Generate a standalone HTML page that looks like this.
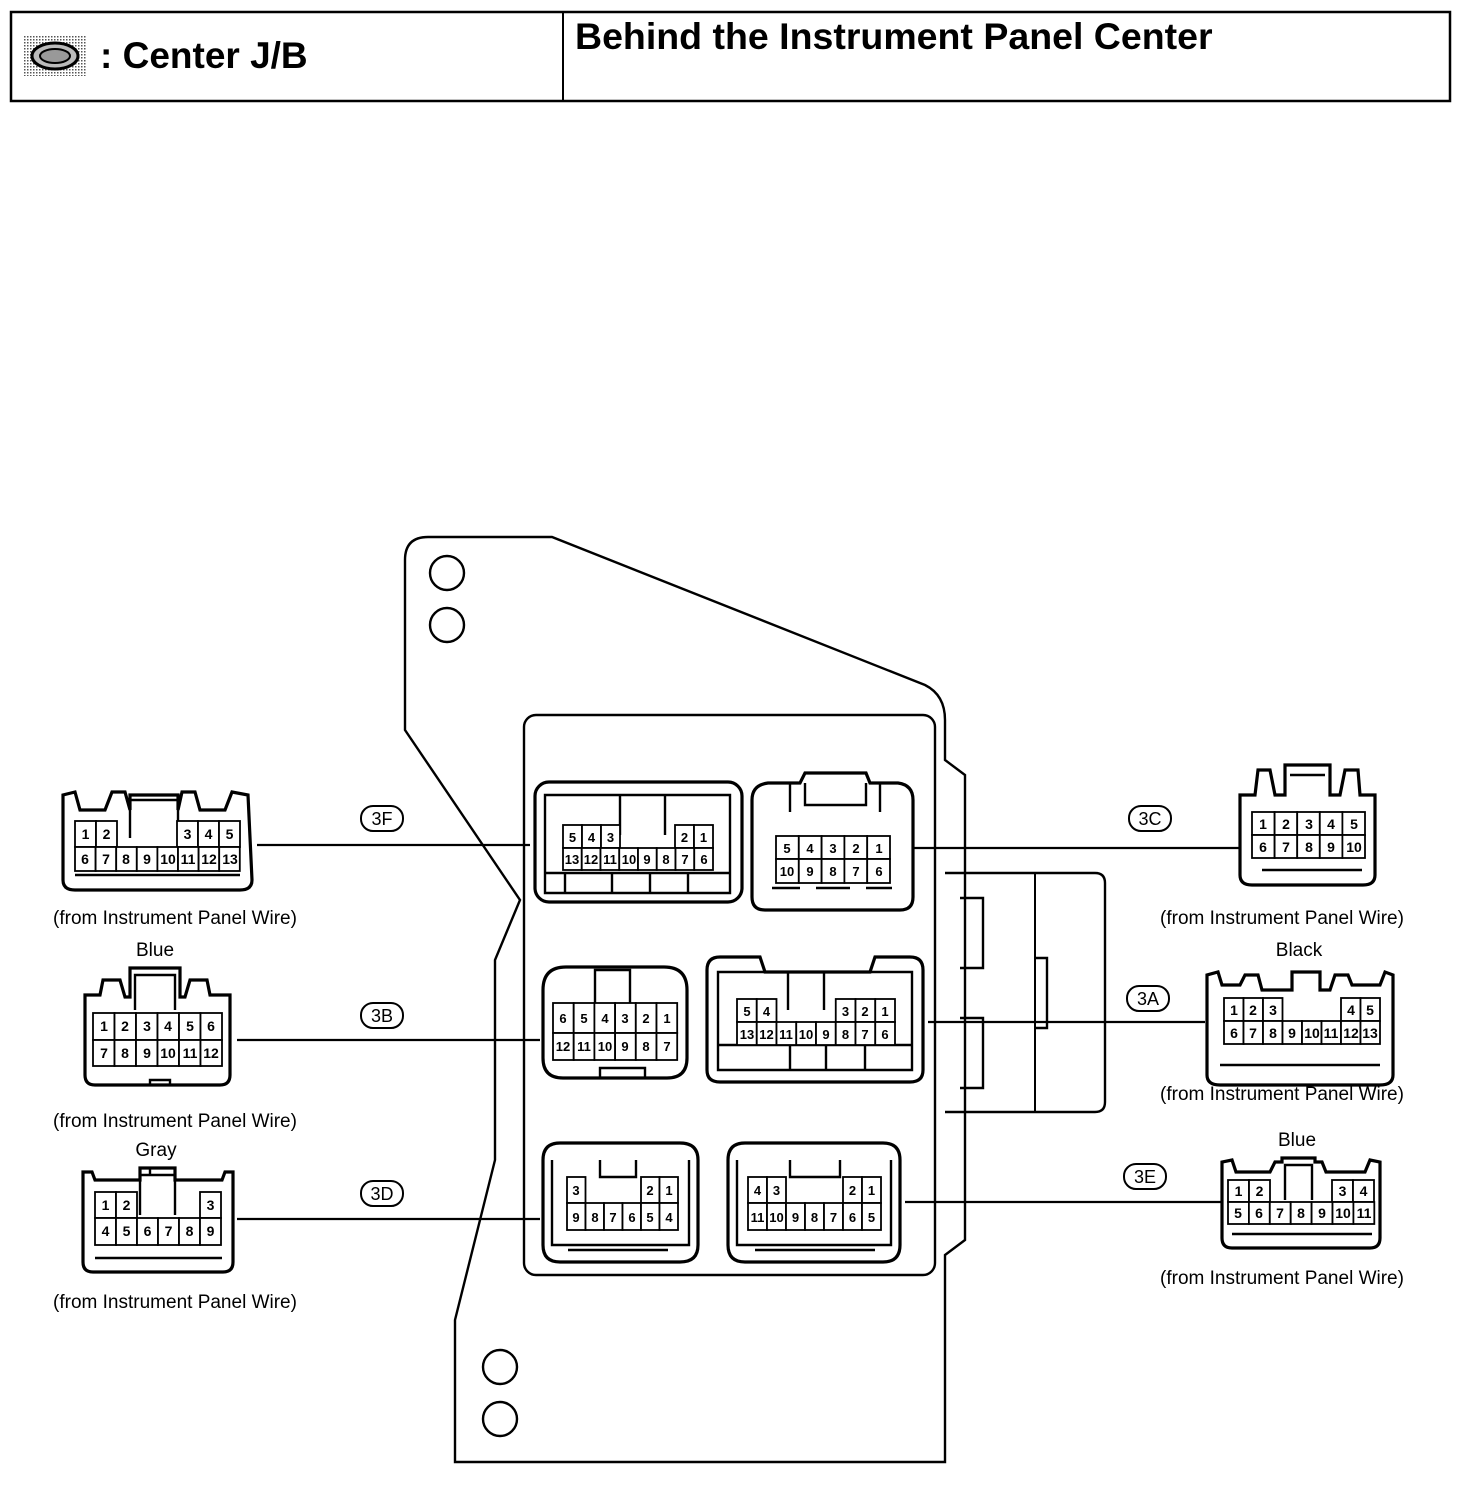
<!DOCTYPE html>
<html><head><meta charset="utf-8"><style>
html,body{margin:0;padding:0;background:#fff;}
svg{display:block;}
text{font-family:"Liberation Sans",sans-serif;fill:#000;}
.p{font-size:14px;text-anchor:middle;font-weight:600;}
.s{font-size:13px;text-anchor:middle;font-weight:600;}
.l{font-size:18px;text-anchor:middle;}
.c rect{fill:#fff;stroke:#000;stroke-width:1.8;}
.o{fill:#fff;stroke:#000;stroke-width:3.2;}
.t{fill:none;stroke:#000;stroke-width:2.4;}
</style></head><body>
<svg width="1472" height="1502" viewBox="0 0 1472 1502" xmlns="http://www.w3.org/2000/svg">
<defs><pattern id="dot" width="3" height="3" patternUnits="userSpaceOnUse"><rect width="3" height="3" fill="#fff"/><rect width="1.5" height="1.5" fill="#555"/></pattern></defs>
<rect x="11" y="12" width="1439" height="89" fill="none" stroke="#000" stroke-width="2.5"/>
<line x1="563" y1="12" x2="563" y2="101" stroke="#000" stroke-width="2"/>
<rect x="24" y="36" width="62" height="40" fill="url(#dot)"/>
<ellipse cx="55" cy="56" rx="23" ry="13" fill="#bbb" stroke="#000" stroke-width="3"/>
<ellipse cx="55" cy="56" rx="15" ry="7" fill="#999" stroke="#000" stroke-width="2"/>
<text x="100" y="68" style="font-size:37px;font-weight:bold">: Center J/B</text>
<text x="575" y="49" style="font-size:37.5px;font-weight:bold">Behind the Instrument Panel Center</text>

<path class="t" stroke-width="3" d="M405,560 Q405,537 428,537 L552,537 L925,685 Q945,695 945,720 L945,760 L965,775 L965,1240 L945,1255 L945,1462 L455,1462 L455,1320 L495,1160 L495,960 L520,900 L405,730 Z"/>
<rect x="524" y="715" width="411" height="560" rx="12" class="t"/>
<path class="t" d="M945,873 L1095,873 Q1105,873 1105,883 L1105,1102 Q1105,1112 1095,1112 L945,1112"/>
<line x1="1035" y1="873" x2="1035" y2="1112" stroke="#000" stroke-width="2"/>
<path class="t" d="M960,898 L983,898 L983,968 L960,968 M960,1018 L983,1018 L983,1088 L960,1088 M1035,958 L1047,958 L1047,1028 L1035,1028"/>
<circle cx="447" cy="573" r="17" class="t"/><circle cx="447" cy="625" r="17" class="t"/>
<circle cx="500" cy="1367" r="17" class="t"/><circle cx="500" cy="1419" r="17" class="t"/>

<g stroke="#000" stroke-width="2.2">
<line x1="257" y1="845" x2="530" y2="845"/>
<line x1="237" y1="1040" x2="540" y2="1040"/>
<line x1="237" y1="1219" x2="540" y2="1219"/>
<line x1="912" y1="848" x2="1240" y2="848"/>
<line x1="928" y1="1022" x2="1205" y2="1022"/>
<line x1="905" y1="1202" x2="1222" y2="1202"/>
</g>
<g fill="#fff" stroke="#000" stroke-width="2">
<rect x="361" y="806" width="42" height="25" rx="12"/>
<rect x="361" y="1003" width="42" height="25" rx="12"/>
<rect x="361" y="1181" width="42" height="25" rx="12"/>
<rect x="1129" y="806" width="42" height="25" rx="12"/>
<rect x="1127" y="986" width="42" height="25" rx="12"/>
<rect x="1124" y="1164" width="42" height="25" rx="12"/>
</g>
<text class="l" x="382" y="825">3F</text><text class="l" x="382" y="1022">3B</text><text class="l" x="382" y="1200">3D</text>
<text class="l" x="1150" y="825">3C</text><text class="l" x="1148" y="1005">3A</text><text class="l" x="1145" y="1183">3E</text>

<g style="font-size:19px" text-anchor="middle">
<text x="175" y="924">(from Instrument Panel Wire)</text>
<text x="175" y="1127">(from Instrument Panel Wire)</text>
<text x="175" y="1308">(from Instrument Panel Wire)</text>
<text x="1282" y="924">(from Instrument Panel Wire)</text>
<text x="1282" y="1100">(from Instrument Panel Wire)</text>
<text x="1282" y="1284">(from Instrument Panel Wire)</text>
<text x="155" y="956">Blue</text><text x="156" y="1156">Gray</text>
<text x="1299" y="956">Black</text><text x="1297" y="1146">Blue</text>
</g>

<path class="o" d="M63,880 L63,795 L75,792 L80,810 L105,810 L112,792 L125,792 L130,810 L130,795 L178,795 L178,810 L182,792 L195,792 L200,810 L225,810 L232,792 L248,795 L252,880 Q252,890 240,890 L75,890 Q63,890 63,880Z"/>
<path class="t" d="M130,838 L130,800 L178,800 L178,838"/>
<path class="t" d="M75,875 L240,875"/>
<path class="o" d="M85,1075 L85,995 L100,995 L103,980 L120,980 L125,997 L130,997 L130,968 L180,968 L180,997 L185,997 L190,980 L207,980 L210,995 L230,995 L230,1075 Q230,1085 220,1085 L95,1085 Q85,1085 85,1075Z"/>
<path class="t" d="M135,1010 L135,975 L175,975 L175,1010 M150,1085 L150,1080 L170,1080 L170,1085"/>
<path class="o" d="M83,1262 L83,1172 L92,1172 L95,1180 L140,1180 L140,1168 L175,1168 L175,1180 L222,1180 L225,1172 L233,1172 L233,1262 Q233,1272 223,1272 L93,1272 Q83,1272 83,1262Z"/>
<path class="t" d="M140,1215 L140,1175 L175,1175 L175,1215 M150,1175 L150,1168 L165,1168 M95,1258 L222,1258"/>
<path class="o" d="M1240,875 L1240,795 L1255,795 L1258,770 L1270,770 L1275,795 L1285,795 L1285,765 L1330,765 L1330,795 L1340,795 L1345,770 L1358,770 L1360,795 L1375,795 L1375,875 Q1375,885 1363,885 L1252,885 Q1240,885 1240,875Z"/>
<path class="t" d="M1290,775 L1325,775 M1262,870 L1362,870"/>
<path class="o" d="M1207,1075 L1207,975 L1218,972 L1222,985 L1240,985 L1245,975 L1258,975 L1262,990 L1292,990 L1292,972 L1320,972 L1320,990 L1330,990 L1335,975 L1348,975 L1352,985 L1380,985 L1385,972 L1393,975 L1393,1075 Q1393,1085 1380,1085 L1220,1085 Q1207,1085 1207,1075Z"/>
<path class="t" d="M1220,1065 L1380,1065"/>
<path class="o" d="M1222,1238 L1222,1162 L1232,1160 L1236,1172 L1270,1172 L1275,1162 L1282,1162 L1282,1158 L1315,1158 L1315,1162 L1322,1162 L1326,1172 L1365,1172 L1370,1160 L1380,1162 L1380,1238 Q1380,1248 1370,1248 L1232,1248 Q1222,1248 1222,1238Z"/>
<path class="t" d="M1285,1200 L1285,1165 L1312,1165 L1312,1200 M1232,1234 L1372,1234"/>

<rect x="535" y="782" width="207" height="120" rx="14" class="o"/>
<path class="t" d="M545,795 L730,795 L730,893 L545,893 Z M565,893 L565,873 M612,893 L612,873 M650,893 L650,873 M688,893 L688,873 M620,795 L620,835 M665,795 L665,835 M545,873 L730,873"/>
<path class="o" d="M752,800 Q752,785 768,783 L800,783 L805,773 L866,773 L870,783 L898,783 Q913,785 913,800 L913,897 Q913,910 900,910 L765,910 Q752,910 752,897 Z"/>
<path class="t" d="M790,783 L790,812 M805,783 L805,805 L866,805 L866,783 M880,783 L880,812 M772,888 L800,888 M816,888 L850,888 M866,888 L892,888"/>
<path class="o" d="M543,990 Q543,967 566,967 L664,967 Q687,967 687,990 L687,1058 Q687,1078 667,1078 L563,1078 Q543,1078 543,1058 Z"/>
<path class="t" d="M595,1003 L595,970 L630,970 L630,1003 M600,1078 L600,1068 L645,1068 L645,1078"/>
<path class="o" d="M707,970 Q707,957 720,957 L760,957 L765,972 L870,972 L875,957 L910,957 Q923,957 923,970 L923,1070 Q923,1082 910,1082 L720,1082 Q707,1082 707,1070 Z"/>
<path class="t" d="M718,972 L912,972 L912,1070 L718,1070 Z M718,1045 L912,1045 M790,1045 L790,1070 M826,1045 L826,1070 M865,1045 L865,1070 M788,972 L788,1010 M824,972 L824,1010"/>
<path class="o" d="M543,1160 Q543,1143 560,1143 L680,1143 Q698,1143 698,1160 L698,1245 Q698,1262 680,1262 L560,1262 Q543,1262 543,1245 Z"/>
<path class="t" d="M552,1160 L552,1245 L689,1245 L689,1160 M568,1250 L668,1250 M600,1160 L600,1177 L636,1177 L636,1160"/>
<path class="o" d="M728,1160 Q728,1143 745,1143 L883,1143 Q900,1143 900,1160 L900,1245 Q900,1262 883,1262 L745,1262 Q728,1262 728,1245 Z"/>
<path class="t" d="M737,1160 L737,1245 L891,1245 L891,1160 M755,1250 L875,1250 M790,1160 L790,1177 L840,1177 L840,1160"/>

<g class="c">
<rect x="75" y="821" width="21" height="26"/><rect x="96" y="821" width="21" height="26"/><rect x="177" y="821" width="21" height="26"/><rect x="198" y="821" width="21" height="26"/><rect x="219" y="821" width="21" height="26"/>
<rect x="75" y="847" width="20.6" height="24"/><rect x="95.6" y="847" width="20.6" height="24"/><rect x="116.2" y="847" width="20.6" height="24"/><rect x="136.8" y="847" width="20.6" height="24"/><rect x="157.4" y="847" width="20.6" height="24"/><rect x="178" y="847" width="20.6" height="24"/><rect x="198.6" y="847" width="20.6" height="24"/><rect x="219.2" y="847" width="20.6" height="24"/>
<rect x="93" y="1013" width="21.5" height="27"/><rect x="114.5" y="1013" width="21.5" height="27"/><rect x="136" y="1013" width="21.5" height="27"/><rect x="157.5" y="1013" width="21.5" height="27"/><rect x="179" y="1013" width="21.5" height="27"/><rect x="200.5" y="1013" width="21.5" height="27"/>
<rect x="93" y="1040" width="21.5" height="26"/><rect x="114.5" y="1040" width="21.5" height="26"/><rect x="136" y="1040" width="21.5" height="26"/><rect x="157.5" y="1040" width="21.5" height="26"/><rect x="179" y="1040" width="21.5" height="26"/><rect x="200.5" y="1040" width="21.5" height="26"/>
<rect x="95" y="1192" width="21" height="26"/><rect x="116" y="1192" width="21" height="26"/><rect x="200" y="1192" width="21" height="26"/>
<rect x="95" y="1218" width="21" height="27"/><rect x="116" y="1218" width="21" height="27"/><rect x="137" y="1218" width="21" height="27"/><rect x="158" y="1218" width="21" height="27"/><rect x="179" y="1218" width="21" height="27"/><rect x="200" y="1218" width="21" height="27"/>
<rect x="1252" y="812" width="22.6" height="23"/><rect x="1274.6" y="812" width="22.6" height="23"/><rect x="1297.2" y="812" width="22.6" height="23"/><rect x="1319.8" y="812" width="22.6" height="23"/><rect x="1342.4" y="812" width="22.6" height="23"/>
<rect x="1252" y="835" width="22.6" height="23"/><rect x="1274.6" y="835" width="22.6" height="23"/><rect x="1297.2" y="835" width="22.6" height="23"/><rect x="1319.8" y="835" width="22.6" height="23"/><rect x="1342.4" y="835" width="22.6" height="23"/>
<rect x="1224" y="998" width="19.5" height="23"/><rect x="1243.5" y="998" width="19.5" height="23"/><rect x="1263" y="998" width="19.5" height="23"/><rect x="1341" y="998" width="19.5" height="23"/><rect x="1360.5" y="998" width="19.5" height="23"/>
<rect x="1224" y="1021" width="19.5" height="23"/><rect x="1243.5" y="1021" width="19.5" height="23"/><rect x="1263" y="1021" width="19.5" height="23"/><rect x="1282.5" y="1021" width="19.5" height="23"/><rect x="1302" y="1021" width="19.5" height="23"/><rect x="1321.5" y="1021" width="19.5" height="23"/><rect x="1341" y="1021" width="19.5" height="23"/><rect x="1360.5" y="1021" width="19.5" height="23"/>
<rect x="1228" y="1180" width="21" height="22"/><rect x="1249" y="1180" width="21" height="22"/><rect x="1332" y="1180" width="21" height="22"/><rect x="1353" y="1180" width="21" height="22"/>
<rect x="1228" y="1202" width="20.9" height="22"/><rect x="1248.9" y="1202" width="20.9" height="22"/><rect x="1269.8" y="1202" width="20.9" height="22"/><rect x="1290.7" y="1202" width="20.9" height="22"/><rect x="1311.6" y="1202" width="20.9" height="22"/><rect x="1332.5" y="1202" width="20.9" height="22"/><rect x="1353.4" y="1202" width="20.9" height="22"/>
<rect x="563" y="825" width="19" height="23"/><rect x="582" y="825" width="19" height="23"/><rect x="601" y="825" width="19" height="23"/><rect x="675" y="825" width="19" height="23"/><rect x="694" y="825" width="19" height="23"/>
<rect x="563" y="848" width="18.75" height="22"/><rect x="581.75" y="848" width="18.75" height="22"/><rect x="600.5" y="848" width="18.75" height="22"/><rect x="619.25" y="848" width="18.75" height="22"/><rect x="638" y="848" width="18.75" height="22"/><rect x="656.75" y="848" width="18.75" height="22"/><rect x="675.5" y="848" width="18.75" height="22"/><rect x="694.25" y="848" width="18.75" height="22"/>
<rect x="776" y="836" width="22.8" height="23"/><rect x="798.8" y="836" width="22.8" height="23"/><rect x="821.6" y="836" width="22.8" height="23"/><rect x="844.4" y="836" width="22.8" height="23"/><rect x="867.2" y="836" width="22.8" height="23"/>
<rect x="776" y="859" width="22.8" height="24"/><rect x="798.8" y="859" width="22.8" height="24"/><rect x="821.6" y="859" width="22.8" height="24"/><rect x="844.4" y="859" width="22.8" height="24"/><rect x="867.2" y="859" width="22.8" height="24"/>
<rect x="553" y="1003" width="20.7" height="30"/><rect x="573.7" y="1003" width="20.7" height="30"/><rect x="594.4" y="1003" width="20.7" height="30"/><rect x="615.1" y="1003" width="20.7" height="30"/><rect x="635.8" y="1003" width="20.7" height="30"/><rect x="656.5" y="1003" width="20.7" height="30"/>
<rect x="553" y="1033" width="20.7" height="27"/><rect x="573.7" y="1033" width="20.7" height="27"/><rect x="594.4" y="1033" width="20.7" height="27"/><rect x="615.1" y="1033" width="20.7" height="27"/><rect x="635.8" y="1033" width="20.7" height="27"/><rect x="656.5" y="1033" width="20.7" height="27"/>
<rect x="737" y="999" width="19.75" height="23"/><rect x="756.75" y="999" width="19.75" height="23"/><rect x="835.75" y="999" width="19.75" height="23"/><rect x="855.5" y="999" width="19.75" height="23"/><rect x="875.25" y="999" width="19.75" height="23"/>
<rect x="737" y="1022" width="19.75" height="23"/><rect x="756.75" y="1022" width="19.75" height="23"/><rect x="776.5" y="1022" width="19.75" height="23"/><rect x="796.25" y="1022" width="19.75" height="23"/><rect x="816" y="1022" width="19.75" height="23"/><rect x="835.75" y="1022" width="19.75" height="23"/><rect x="855.5" y="1022" width="19.75" height="23"/><rect x="875.25" y="1022" width="19.75" height="23"/>
<rect x="567" y="1177" width="18.5" height="26"/><rect x="641" y="1177" width="18.5" height="26"/><rect x="659.5" y="1177" width="18.5" height="26"/>
<rect x="567" y="1203" width="18.5" height="27"/><rect x="585.5" y="1203" width="18.5" height="27"/><rect x="604" y="1203" width="18.5" height="27"/><rect x="622.5" y="1203" width="18.5" height="27"/><rect x="641" y="1203" width="18.5" height="27"/><rect x="659.5" y="1203" width="18.5" height="27"/>
<rect x="748" y="1177" width="19" height="26"/><rect x="767" y="1177" width="19" height="26"/><rect x="843" y="1177" width="19" height="26"/><rect x="862" y="1177" width="19" height="26"/>
<rect x="748" y="1203" width="19" height="27"/><rect x="767" y="1203" width="19" height="27"/><rect x="786" y="1203" width="19" height="27"/><rect x="805" y="1203" width="19" height="27"/><rect x="824" y="1203" width="19" height="27"/><rect x="843" y="1203" width="19" height="27"/><rect x="862" y="1203" width="19" height="27"/>
</g>

<g class="p">
<text x="85.5" y="839">1</text><text x="106.5" y="839">2</text><text x="187.5" y="839">3</text><text x="208.5" y="839">4</text><text x="229.5" y="839">5</text>
<text x="85" y="864">6</text><text x="106" y="864">7</text><text x="126" y="864">8</text><text x="147" y="864">9</text><text x="168" y="864">10</text><text x="188" y="864">11</text><text x="209" y="864">12</text><text x="230" y="864">13</text>
<text x="104" y="1031">1</text><text x="125" y="1031">2</text><text x="147" y="1031">3</text><text x="168" y="1031">4</text><text x="190" y="1031">5</text><text x="211" y="1031">6</text>
<text x="104" y="1058">7</text><text x="125" y="1058">8</text><text x="147" y="1058">9</text><text x="168" y="1058">10</text><text x="190" y="1058">11</text><text x="211" y="1058">12</text>
<text x="105.5" y="1210">1</text><text x="126.5" y="1210">2</text><text x="210.5" y="1210">3</text>
<text x="105.5" y="1236">4</text><text x="126.5" y="1236">5</text><text x="147.5" y="1236">6</text><text x="168.5" y="1236">7</text><text x="189.5" y="1236">8</text><text x="210.5" y="1236">9</text>
<text x="1263" y="829">1</text><text x="1286" y="829">2</text><text x="1309" y="829">3</text><text x="1331" y="829">4</text><text x="1354" y="829">5</text>
<text x="1263" y="852">6</text><text x="1286" y="852">7</text><text x="1309" y="852">8</text><text x="1331" y="852">9</text><text x="1354" y="852">10</text>
<text x="1234" y="1015">1</text><text x="1253" y="1015">2</text><text x="1273" y="1015">3</text><text x="1351" y="1015">4</text><text x="1370" y="1015">5</text>
<text x="1234" y="1038">6</text><text x="1253" y="1038">7</text><text x="1273" y="1038">8</text><text x="1292" y="1038">9</text><text x="1312" y="1038">10</text><text x="1331" y="1038">11</text><text x="1351" y="1038">12</text><text x="1370" y="1038">13</text>
<text x="1238.5" y="1196">1</text><text x="1259.5" y="1196">2</text><text x="1342.5" y="1196">3</text><text x="1363.5" y="1196">4</text>
<text x="1238" y="1218">5</text><text x="1259" y="1218">6</text><text x="1280" y="1218">7</text><text x="1301" y="1218">8</text><text x="1322" y="1218">9</text><text x="1343" y="1218">10</text><text x="1364" y="1218">11</text>
</g>
<g class="s">
<text x="572.5" y="842">5</text><text x="591.5" y="842">4</text><text x="610.5" y="842">3</text><text x="684.5" y="842">2</text><text x="703.5" y="842">1</text>
<text x="572" y="864">13</text><text x="591" y="864">12</text><text x="610" y="864">11</text><text x="629" y="864">10</text><text x="647" y="864">9</text><text x="666" y="864">8</text><text x="685" y="864">7</text><text x="704" y="864">6</text>
<text x="787" y="853">5</text><text x="810" y="853">4</text><text x="833" y="853">3</text><text x="856" y="853">2</text><text x="879" y="853">1</text>
<text x="787" y="876">10</text><text x="810" y="876">9</text><text x="833" y="876">8</text><text x="856" y="876">7</text><text x="879" y="876">6</text>
<text x="563" y="1023">6</text><text x="584" y="1023">5</text><text x="605" y="1023">4</text><text x="625" y="1023">3</text><text x="646" y="1023">2</text><text x="667" y="1023">1</text>
<text x="563" y="1051">12</text><text x="584" y="1051">11</text><text x="605" y="1051">10</text><text x="625" y="1051">9</text><text x="646" y="1051">8</text><text x="667" y="1051">7</text>
<text x="747" y="1016">5</text><text x="766.5" y="1016">4</text><text x="845.5" y="1016">3</text><text x="865" y="1016">2</text><text x="885" y="1016">1</text>
<text x="747" y="1039">13</text><text x="766.5" y="1039">12</text><text x="786" y="1039">11</text><text x="806" y="1039">10</text><text x="826" y="1039">9</text><text x="845.5" y="1039">8</text><text x="865" y="1039">7</text><text x="885" y="1039">6</text>
<text x="576" y="1195">3</text><text x="650" y="1195">2</text><text x="669" y="1195">1</text>
<text x="576" y="1222">9</text><text x="595" y="1222">8</text><text x="613" y="1222">7</text><text x="632" y="1222">6</text><text x="650" y="1222">5</text><text x="669" y="1222">4</text>
<text x="757.5" y="1195">4</text><text x="776.5" y="1195">3</text><text x="852.5" y="1195">2</text><text x="871.5" y="1195">1</text>
<text x="757.5" y="1222">11</text><text x="776.5" y="1222">10</text><text x="795.5" y="1222">9</text><text x="814.5" y="1222">8</text><text x="833.5" y="1222">7</text><text x="852.5" y="1222">6</text><text x="871.5" y="1222">5</text>
</g>
</svg>
</body></html>
